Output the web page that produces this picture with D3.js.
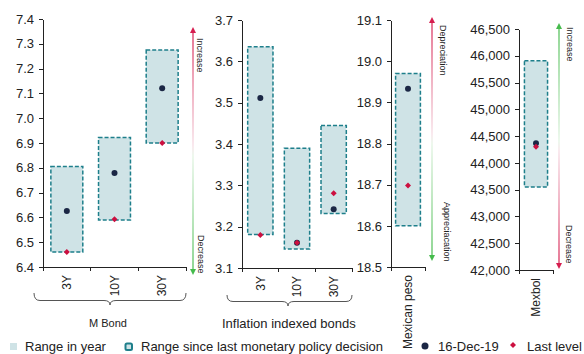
<!DOCTYPE html>
<html>
<head>
<meta charset="utf-8">
<script src="https://cdn.jsdelivr.net/npm/d3@7"></script>
<style>
  html, body { margin: 0; padding: 0; background: #fff; }
  svg { display: block; font-family: "Liberation Sans", Arial, sans-serif; }
  .axis path, .axis line { stroke: #222; shape-rendering: crispEdges; }
  .axis text { font-size: 13px; fill: #222; }
</style>
</head>
<body>
<div id="chart"></div>
<script>
// ---- data ----
const bondCats = ["3Y", "10Y", "30Y"];
const bondLow = [6.46, 6.59, 6.90];
const bondHigh = [6.805, 6.922, 7.275];
const bondDec16 = [6.626, 6.779, 7.121];
const bondLast = [6.46, 6.593, 6.90];
const bondTicks = [6.4, 6.5, 6.6, 6.7, 6.8, 6.9, 7.0, 7.1, 7.2, 7.3, 7.4];

const udiCats = ["3Y", "10Y", "30Y"];
const udiLow = [3.181, 3.146, 3.232];
const udiHigh = [3.635, 3.39, 3.445];
const udiDec16 = [3.511, 3.161, 3.242];
const udiLast = [3.18, 3.161, 3.281];
const udiTicks = [3.1, 3.2, 3.3, 3.4, 3.5, 3.6, 3.7];

const pesoCats = ["Mexican peso"];
const pesoLow = [18.6];
const pesoHigh = [18.97];
const pesoDec16 = [18.933];
const pesoLast = [18.698];
const pesoTicks = [18.5, 18.6, 18.7, 18.8, 18.9, 19.0, 19.1];

const mexbolCats = ["Mexbol"];
const mexbolLow = [43550];
const mexbolHigh = [45905];
const mexbolDec16 = [44365];
const mexbolLast = [44300];
const mexbolTicks = [42000, 42500, 43000, 43500, 44000, 44500, 45000, 45500, 46000, 46500];

const legendLabels = ["Range in year", "Range since last monetary policy decision", "16-Dec-19", "Last level"];

// ---- colors ----
const fillCol = "#cfe3e6";
const edgeCol = "#1e7f8b";
const dotCol = "#1b2745";
const diamondCol = "#cc1040";
const redCol = "#d61e4f";
const greenCol = "#45bb4c";

const width = 584, height = 354;

const svg = d3.select("#chart").append("svg")
    .attr("width", width)
    .attr("height", height);

const defs = svg.append("defs");

function gradient(id, topCol, bottomCol, topFade, bottomFade) {
    let g = defs.append("linearGradient")
        .attr("id", id)
        .attr("x1", 0).attr("y1", 0).attr("x2", 0).attr("y2", 1);
    g.append("stop").attr("offset", "0%").attr("stop-color", topCol);
    g.append("stop").attr("offset", "48%").attr("stop-color", topFade);
    g.append("stop").attr("offset", "52%").attr("stop-color", bottomFade);
    g.append("stop").attr("offset", "100%").attr("stop-color", bottomCol);
}
gradient("redGreen", redCol, greenCol, "#f6dce4", "#e2f4e2");
gradient("greenRed", greenCol, redCol, "#e2f4e2", "#f6dce4");

// one panel = y axis, category axis, range bars, markers
function drawPanel(p) {
    let g = svg.append("g");

    let y = d3.scaleLinear()
        .domain([p.ticks[0], p.ticks[p.ticks.length - 1]])
        .range(p.yRange);

    let x = d3.scaleBand()
        .domain(p.cats)
        .range(p.xRange)
        .padding(0);

    let yAxis = d3.axisLeft(y)
        .tickValues(p.ticks)
        .tickSize(4)
        .tickSizeOuter(0)
        .tickPadding(5)
        .tickFormat(p.format);

    g.append("g")
        .attr("class", "axis")
        .attr("transform", `translate(${p.xRange[0]},0)`)
        .call(yAxis);

    // category axis: line plus ticks at band edges
    let xb = g.append("g").attr("class", "axis");
    xb.append("line")
        .attr("x1", p.xRange[0]).attr("x2", p.xRange[1])
        .attr("y1", p.yRange[0]).attr("y2", p.yRange[0]);
    let edges = p.cats.map(c => x(c)).concat([p.xRange[1]]);
    xb.selectAll("line.tk")
        .data(edges)
        .join("line")
        .attr("class", "tk")
        .attr("x1", d => d).attr("x2", d => d)
        .attr("y1", p.yRange[0]).attr("y2", p.yRange[0] + 4);

    xb.selectAll("text.cat")
        .data(p.cats)
        .join("text")
        .attr("class", "cat")
        .attr("transform", d => `translate(${x(d) + x.bandwidth() / 2},${p.yRange[0] + 8}) rotate(-90)`)
        .attr("dy", "0.35em")
        .attr("text-anchor", "end")
        .style("font-size", "12px")
        .text(d => d);

    let bw = x.bandwidth() * p.barFrac;
    let rows = p.cats.map((c, i) => ({cat: c, low: p.low[i], high: p.high[i], dec: p.dec[i], last: p.last[i]}));

    g.selectAll("rect.range")
        .data(rows)
        .join("rect")
        .attr("class", "range")
        .attr("x", d => x(d.cat) + (x.bandwidth() - bw) / 2)
        .attr("width", bw)
        .attr("y", d => y(d.high))
        .attr("height", d => y(d.low) - y(d.high))
        .attr("fill", fillCol)
        .attr("stroke", edgeCol)
        .attr("stroke-width", 1.5)
        .attr("stroke-dasharray", "4,2");

    g.selectAll("circle.dec")
        .data(rows)
        .join("circle")
        .attr("class", "dec")
        .attr("cx", d => x(d.cat) + x.bandwidth() / 2)
        .attr("cy", d => y(d.dec))
        .attr("r", 3)
        .attr("fill", dotCol);

    g.selectAll("path.last")
        .data(rows)
        .join("path")
        .attr("class", "last")
        .attr("d", d3.symbol().type(d3.symbolSquare).size(18))
        .attr("transform", d => `translate(${x(d.cat) + x.bandwidth() / 2},${y(d.last)}) rotate(45)`)
        .attr("fill", diamondCol);
}

drawPanel({cats: bondCats, low: bondLow, high: bondHigh, dec: bondDec16, last: bondLast,
    ticks: bondTicks, xRange: [43, 186], yRange: [267, 19], barFrac: 0.67, format: d3.format(".1f")});
drawPanel({cats: udiCats, low: udiLow, high: udiHigh, dec: udiDec16, last: udiLast,
    ticks: udiTicks, xRange: [242, 352], yRange: [268, 20], barFrac: 0.69, format: d3.format(".1f")});
drawPanel({cats: pesoCats, low: pesoLow, high: pesoHigh, dec: pesoDec16, last: pesoLast,
    ticks: pesoTicks, xRange: [391, 425], yRange: [267, 20], barFrac: 0.73, format: d3.format(".1f")});
drawPanel({cats: mexbolCats, low: mexbolLow, high: mexbolHigh, dec: mexbolDec16, last: mexbolLast,
    ticks: mexbolTicks, xRange: [519, 553], yRange: [270, 29], barFrac: 0.68, format: d3.format(",")});

// ---- group braces ----
function brace(x0, x1, xm, yTop, yLine, yTip) {
    let r = 6;
    let path = `M${x0},${yTop} Q${x0},${yLine} ${x0 + r},${yLine} L${xm - r},${yLine} Q${xm},${yLine} ${xm},${yTip}` +
        ` Q${xm},${yLine} ${xm + r},${yLine} L${x1 - r},${yLine} Q${x1},${yLine} ${x1},${yTop}`;
    svg.append("path")
        .attr("d", path)
        .attr("fill", "none")
        .attr("stroke", "#555")
        .attr("stroke-width", 1);
}
brace(34, 186, 110, 293, 300.5, 305);
brace(227, 352, 288, 295, 301.5, 306);

svg.append("text")
    .attr("x", 108).attr("y", 326.5)
    .attr("text-anchor", "middle")
    .style("font-size", "11px").attr("fill", "#222")
    .text("M Bond");

svg.append("text")
    .attr("x", 222).attr("y", 328)
    .style("font-size", "13px").attr("fill", "#222")
    .text("Inflation indexed bonds");

// ---- direction arrows ----
function arrow(xp, yTop, yBot, grad, topCol, botCol) {
    let g = svg.append("g");
    g.append("rect")
        .attr("x", xp - 0.6).attr("width", 1.2)
        .attr("y", yTop + 4).attr("height", yBot - yTop - 8)
        .attr("fill", `url(#${grad})`);
    g.append("path")
        .attr("d", `M${xp},${yTop} L${xp - 3},${yTop + 6} L${xp + 3},${yTop + 6} Z`)
        .attr("fill", topCol);
    g.append("path")
        .attr("d", `M${xp},${yBot} L${xp - 3},${yBot - 6} L${xp + 3},${yBot - 6} Z`)
        .attr("fill", botCol);
}
arrow(193, 27, 275, "redGreen", redCol, greenCol);
arrow(432, 17, 261, "redGreen", redCol, greenCol);
arrow(559, 23, 269, "greenRed", greenCol, redCol);

function sideText(xp, yp, txt) {
    svg.append("text")
        .attr("transform", `translate(${xp},${yp}) rotate(90)`)
        .style("font-size", "9px")
        .attr("fill", "#222")
        .text(txt);
}
sideText(197, 38, "Increase");
sideText(197.5, 235, "Decrease");
sideText(439.5, 25, "Depreciation");
sideText(443.5, 202, "Appreciacation");
sideText(567, 27, "Increase");
sideText(566, 225, "Decrease");

// ---- legend ----
let leg = svg.append("g").style("font-size", "13px").attr("fill", "#222");
let legY = 350.5;

leg.append("rect")
    .attr("x", 10).attr("y", legY - 7.5).attr("width", 7).attr("height", 7)
    .attr("fill", fillCol);
leg.append("text").attr("x", 25).attr("y", legY).text(legendLabels[0]);

leg.append("rect")
    .attr("x", 125.5).attr("y", legY - 7).attr("width", 6.5).attr("height", 6.5)
    .attr("rx", 1.5)
    .attr("fill", fillCol)
    .attr("stroke", edgeCol)
    .attr("stroke-width", 2);
leg.append("text").attr("x", 141).attr("y", legY).text(legendLabels[1]);

leg.append("circle")
    .attr("cx", 425).attr("cy", legY - 4.5).attr("r", 3.5)
    .attr("fill", dotCol);
leg.append("text").attr("x", 438).attr("y", legY).text(legendLabels[2]);

leg.append("path")
    .attr("d", d3.symbol().type(d3.symbolSquare).size(18))
    .attr("transform", `translate(513,${legY - 5.5}) rotate(45)`)
    .attr("fill", diamondCol);
leg.append("text").attr("x", 527).attr("y", legY).text(legendLabels[3]);
</script>
</body>
</html>
